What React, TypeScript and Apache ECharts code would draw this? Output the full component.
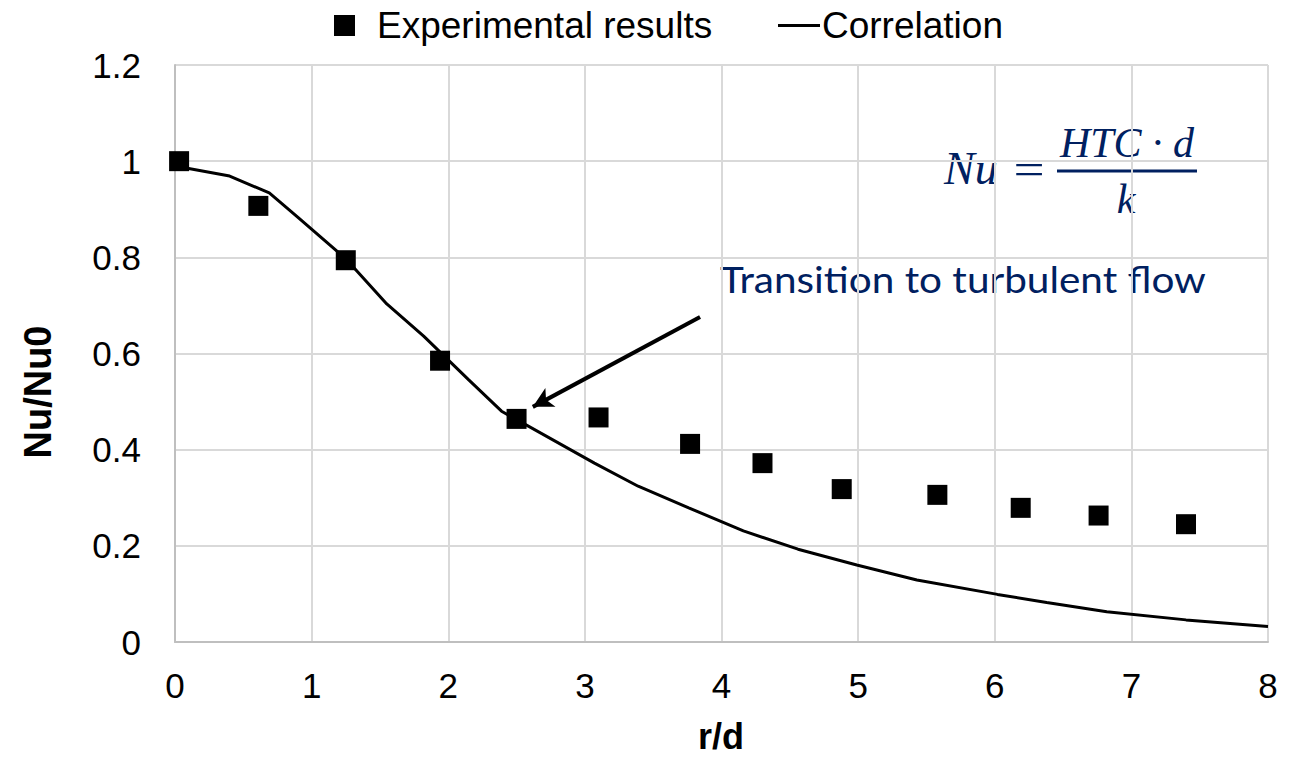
import React, { useEffect, useRef } from "react";
import * as echarts from "echarts";

const expX = [0.03, 0.61, 1.25, 1.94, 2.5, 3.1, 3.77, 4.3, 4.88, 5.58, 6.19, 6.76, 7.4];
const expY = [1.0, 0.907, 0.794, 0.585, 0.464, 0.467, 0.412, 0.372, 0.318, 0.306, 0.279, 0.263, 0.245];

const corrX = [0, 0.4, 0.69, 0.9, 1.25, 1.55, 1.82, 2.15, 2.39, 3.07, 3.39, 3.76, 4.16, 4.56, 4.99, 5.43, 6.02, 6.38, 6.82, 7.4, 8.0];
const corrY = [0.99, 0.969, 0.934, 0.883, 0.797, 0.703, 0.636, 0.545, 0.48, 0.372, 0.324, 0.279, 0.231, 0.193, 0.16, 0.129, 0.099, 0.082, 0.063, 0.046, 0.032];

const arrowFrom = [3.843, 0.676];
const arrowTo = [2.619, 0.489];

const NAVY = "#002060";

export default function App() {
  const ref = useRef<HTMLDivElement>(null);
  useEffect(() => {
    if (!ref.current) return;
    const chart = echarts.init(ref.current, null, { renderer: "svg" });
    const font = "'Liberation Sans', Arial, sans-serif";
    chart.setOption({
      animation: false,
      backgroundColor: "#ffffff",
      grid: { left: 175, right: 38, top: 65, bottom: 115 },
      legend: [
        {
          data: [{ name: "Experimental results", icon: "rect" }],
          left: 334,
          top: 7,
          padding: 0,
          itemWidth: 21,
          itemHeight: 21,
          itemStyle: { color: "#000", opacity: 1 },
          textStyle: { fontSize: 37, fontFamily: font, color: "#000", padding: [0, 0, 0, 17] },
        },
        {
          data: [{ name: "Correlation", icon: "rect" }],
          left: 778,
          top: 7,
          padding: 0,
          itemWidth: 42,
          itemHeight: 3,
          itemStyle: { color: "#000" },
          textStyle: { fontSize: 37, fontFamily: font, color: "#000", padding: [0, 0, 0, -3] },
        },
      ],
      xAxis: {
        type: "value",
        min: 0,
        max: 8,
        interval: 1,
        axisLine: { show: true, lineStyle: { color: "#bfbfbf", width: 2 } },
        axisTick: { show: false },
        axisLabel: { fontSize: 35, fontFamily: font, color: "#000", margin: 26 },
        splitLine: { show: true, lineStyle: { color: "#d9d9d9", width: 2 } },
      },
      yAxis: {
        type: "value",
        min: 0,
        max: 1.2,
        interval: 0.2,
        axisLine: { show: true, onZero: false, lineStyle: { color: "#bfbfbf", width: 2 } },
        axisTick: { show: false },
        axisLabel: { fontSize: 35, fontFamily: font, color: "#000", margin: 34 },
        splitLine: { show: true, lineStyle: { color: "#d9d9d9", width: 2 } },
      },
      series: [
        {
          name: "Correlation",
          type: "line",
          data: corrX.map((x, i) => [x, corrY[i]]),
          symbol: "none",
          smooth: false,
          lineStyle: { color: "#000", width: 3 },
          itemStyle: { color: "#000" },
          z: 2,
        },
        {
          name: "Experimental results",
          type: "scatter",
          data: expX.map((x, i) => [x, expY[i]]),
          symbol: "rect",
          symbolSize: 20,
          itemStyle: { color: "#000", opacity: 1 },
          z: 3,
          markLine: {
            silent: true,
            symbol: ["none", "arrow"],
            symbolSize: [16, 20],
            label: { show: false },
            lineStyle: { color: "#000", width: 4, type: "solid", opacity: 1 },
            data: [[{ coord: arrowFrom }, { coord: arrowTo }]],
          },
        },
      ],
      graphic: [
        {
          type: "text",
          x: 38,
          y: 392,
          rotation: Math.PI / 2,
          style: {
            text: "Nu/Nu0",
            font: "bold 38px 'Liberation Sans', Arial, sans-serif",
            fill: "#000",
            align: "center",
            verticalAlign: "middle",
          },
        },
        {
          type: "text",
          x: 721,
          y: 736,
          style: {
            text: "r/d",
            font: "bold 36px 'Liberation Sans', Arial, sans-serif",
            fill: "#000",
            align: "center",
            verticalAlign: "middle",
          },
        },
        {
          type: "text",
          x: 720,
          y: 279,
          scaleX: 1.125,
          style: {
            text: "Transition to turbulent flow",
            font: "36px Lato, 'Open Sans', sans-serif",
            fill: NAVY,
            align: "left",
            verticalAlign: "middle",
          },
        },
        {
          type: "text",
          x: 944,
          y: 168,
          style: {
            text: "Nu",
            font: "italic 46px 'Liberation Serif', serif",
            fill: NAVY,
            align: "left",
            verticalAlign: "middle",
          },
        },
        {
          type: "text",
          x: 1029,
          y: 170,
          scaleX: 1.2,
          style: {
            text: "=",
            font: "46px 'Liberation Serif', serif",
            fill: NAVY,
            align: "center",
            verticalAlign: "middle",
          },
        },
        {
          type: "line",
          shape: { x1: 1057, y1: 171, x2: 1197, y2: 171 },
          style: { stroke: NAVY, lineWidth: 3 },
        },
        {
          type: "text",
          x: 1127,
          y: 143,
          style: {
            text: "HTC · d",
            font: "italic 42px 'Liberation Serif', serif",
            fill: NAVY,
            align: "center",
            verticalAlign: "middle",
          },
        },
        {
          type: "text",
          x: 1126,
          y: 199,
          style: {
            text: "k",
            font: "italic 42px 'Liberation Serif', serif",
            fill: NAVY,
            align: "center",
            verticalAlign: "middle",
          },
        },
      ],
    });
    return () => chart.dispose();
  }, []);
  return (
    <div
      ref={ref}
      style={{ position: "fixed", left: 0, top: 0, width: 1306, height: 757, background: "#fff" }}
    />
  );
}
